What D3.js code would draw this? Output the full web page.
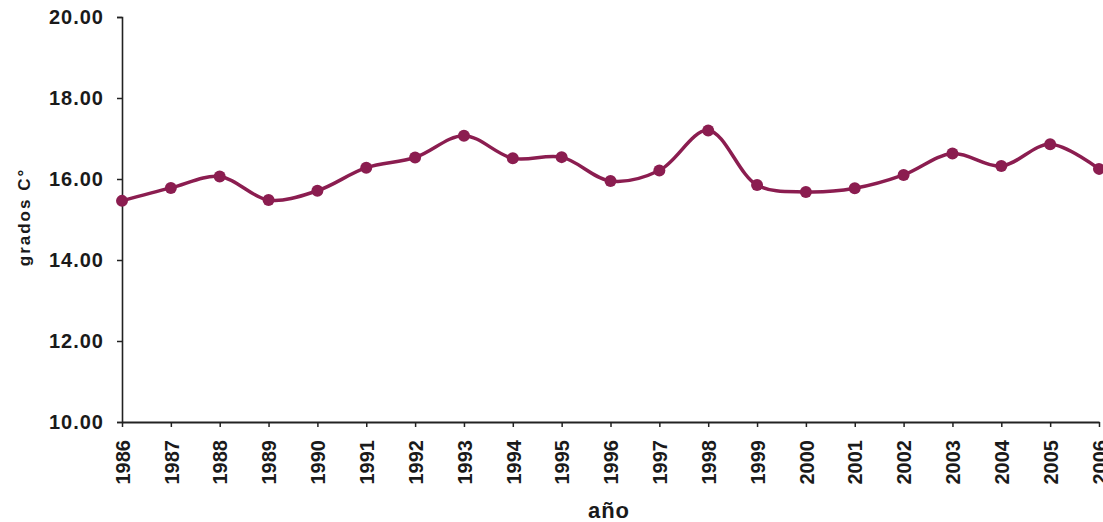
<!DOCTYPE html>
<html>
<head>
<meta charset="utf-8">
<script src="https://cdn.jsdelivr.net/npm/d3@7.9.0/dist/d3.min.js"></script>
<style>
  body { margin: 0; background: #fff; }
  svg { display: block; font-family: "Liberation Sans", Arial, sans-serif; font-weight: bold; }
</style>
</head>
<body>
<svg id="chart" width="1103" height="522"></svg>
<script>
const years = [1986, 1987, 1988, 1989, 1990, 1991, 1992, 1993, 1994, 1995, 1996,
  1997, 1998, 1999, 2000, 2001, 2002, 2003, 2004, 2005, 2006];
const temps = [15.46, 15.78, 16.06, 15.48, 15.71, 16.28, 16.53, 17.07, 16.51, 16.54, 15.95,
  16.21, 17.20, 15.85, 15.68, 15.77, 16.10, 16.63, 16.32, 16.86, 16.25];
const yTicks = [10, 12, 14, 16, 18, 20];

const svg = d3.select('#chart');
const margin = { left: 122, right: 4, top: 17, bottom: 100 };
const width = 1103, height = 522;
const color = '#8b1d50';

const x = d3.scalePoint()
  .domain(years)
  .range([margin.left, width - margin.right]);

const y = d3.scaleLinear()
  .domain([10, 20])
  .range([height - margin.bottom, margin.top]);

// y axis
const yAxis = svg.append('g')
  .attr('transform', `translate(${margin.left},0)`)
  .call(d3.axisLeft(y).tickValues(yTicks).tickFormat(d3.format('.2f')).tickSize(5).tickPadding(13));
yAxis.select('.domain').attr('stroke', '#222').attr('stroke-width', 1.6);
yAxis.selectAll('.tick line').attr('stroke', '#222').attr('stroke-width', 1.5);
yAxis.selectAll('.tick text')
  .attr('font-size', 20)
  .attr('letter-spacing', 1)
  .attr('fill', '#1a1a1a');

// x axis
const xAxis = svg.append('g')
  .attr('transform', `translate(0,${height - margin.bottom})`)
  .call(d3.axisBottom(x).tickSize(5).tickSizeOuter(0));
xAxis.select('.domain').attr('stroke', '#222').attr('stroke-width', 2);
xAxis.selectAll('.tick line').attr('stroke', '#222').attr('stroke-width', 1.5);
xAxis.selectAll('.tick text')
  .attr('font-size', 20)
  .attr('fill', '#1a1a1a')
  .attr('text-anchor', 'end')
  .attr('transform', 'rotate(-90)')
  .attr('x', -18)
  .attr('y', 0)
  .attr('dy', '0.36em');

// axis titles
svg.append('text')
  .attr('transform', `translate(24,217) rotate(-90)`)
  .attr('text-anchor', 'middle')
  .attr('dy', '0.35em')
  .attr('font-size', 17)
  .attr('letter-spacing', 2)
  .attr('fill', '#1a1a1a')
  .text('grados C°');

svg.append('text')
  .attr('x', 609)
  .attr('y', 518)
  .attr('text-anchor', 'middle')
  .attr('font-size', 22)
  .attr('letter-spacing', 1)
  .attr('fill', '#1a1a1a')
  .text('año');

// line
const line = d3.line()
  .x((d, i) => x(years[i]))
  .y(d => y(d))
  .curve(d3.curveCatmullRom.alpha(0.5));

svg.append('path')
  .datum(temps)
  .attr('fill', 'none')
  .attr('stroke', color)
  .attr('stroke-width', 3.5)
  .attr('d', line);

svg.append('g')
  .selectAll('circle')
  .data(temps)
  .join('circle')
  .attr('cx', (d, i) => x(years[i]))
  .attr('cy', d => y(d))
  .attr('r', 6)
  .attr('fill', color);
</script>
</body>
</html>
